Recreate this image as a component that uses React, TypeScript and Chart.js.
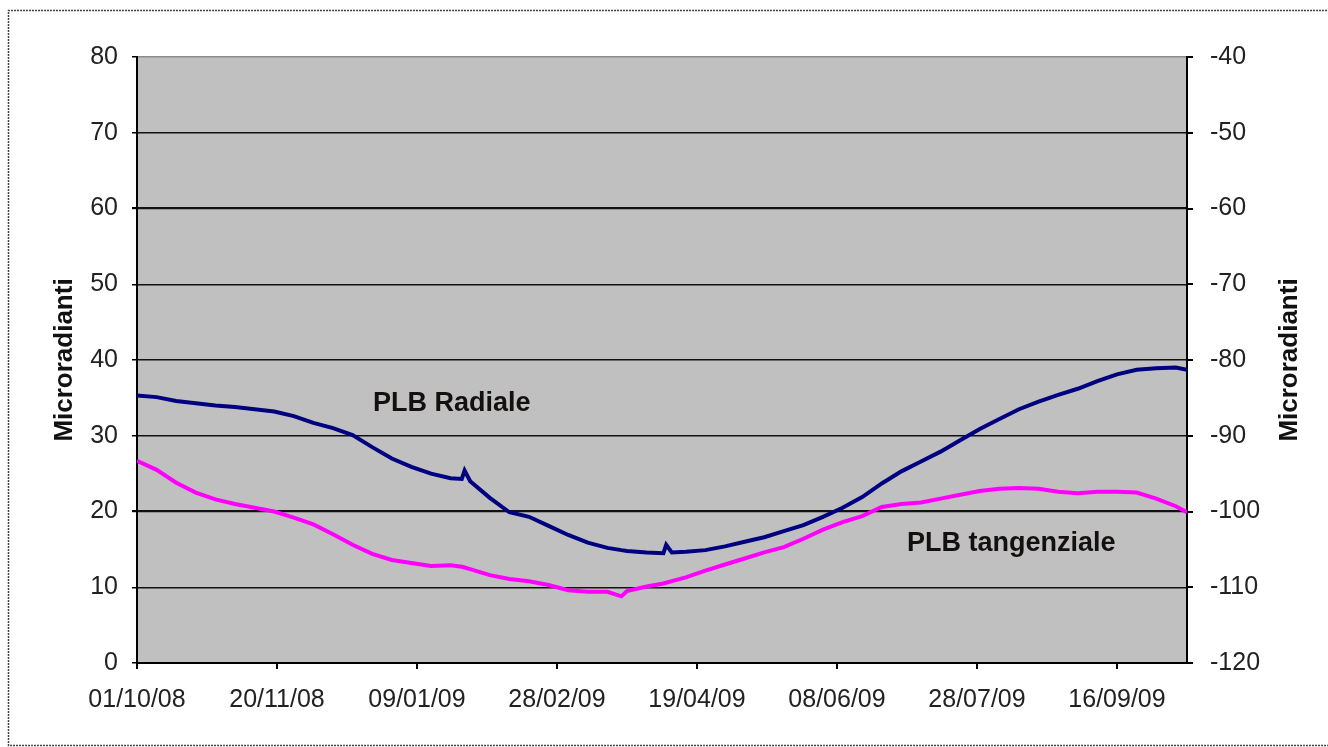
import React, { useEffect, useRef } from 'react';
import { Chart, registerables } from 'chart.js';

Chart.register(...registerables);

// Days elapsed since 01/10/08
const days = [
  0, 7, 14, 21, 28, 35, 42, 49, 56, 63, 70, 77, 84, 91, 98, 105, 112, 116, 117, 119,
  126, 133, 140, 147, 154, 161, 168, 173, 175, 182, 188, 189, 191, 196, 203, 210, 217, 224,
  231, 238, 245, 252, 259, 266, 273, 280, 287, 294, 301, 308, 315, 322, 329, 336,
  343, 350, 357, 364, 371, 375,
];

// PLB Radiale (microradianti)
const radiale = [
  35.3, 35.1, 34.6, 34.3, 34.0, 33.8, 33.5, 33.2, 32.6, 31.7, 31.0, 30.1, 28.5, 27.0, 25.9, 25.0, 24.4, 24.3, 25.4, 24.0,
  21.8, 19.9, 19.3, 18.1, 16.9, 15.9, 15.2, 14.9, 14.8, 14.6, 14.5, 15.6, 14.6, 14.7, 14.9, 15.4, 16.0, 16.6,
  17.4, 18.2, 19.3, 20.5, 21.9, 23.7, 25.3, 26.6, 27.9, 29.4, 30.9, 32.2, 33.5, 34.5, 35.4, 36.2,
  37.2, 38.1, 38.7, 38.9, 39.0, 38.7,
];

// PLB tangenziale (microradianti)
const tangenziale = [
  26.7, 25.5, 23.8, 22.5, 21.6, 21.0, 20.5, 20.0, 19.2, 18.3, 17.0, 15.6, 14.4, 13.6, 13.2, 12.8, 12.9, 12.7, 12.6, 12.4,
  11.6, 11.1, 10.8, 10.3, 9.6, 9.4, 9.4, 8.8, 9.5, 10.1, 10.5, 10.6, 10.8, 11.3, 12.2, 13.0, 13.8, 14.6,
  15.3, 16.4, 17.6, 18.6, 19.4, 20.6, 21.0, 21.2, 21.7, 22.2, 22.7, 23.0, 23.1, 23.0, 22.6, 22.4,
  22.6, 22.6, 22.5, 21.7, 20.7, 19.9,
];

const xTickDays = [0, 50, 100, 150, 200, 250, 300, 350];
const xTickLabels = ['01/10/08', '20/11/08', '09/01/09', '28/02/09', '19/04/09', '08/06/09', '28/07/09', '16/09/09'];

const seriesNames = ['PLB Radiale', 'PLB tangenziale'];
const axisTitle = 'Microradianti';

const FONT = '"Liberation Sans", Arial, Helvetica, sans-serif';

const decorPlugin = {
  id: 'decor',
  beforeDraw(chart: any) {
    const { ctx, chartArea } = chart;
    const { left, top, right, bottom } = chartArea;
    ctx.save();
    ctx.fillStyle = '#ffffff';
    ctx.fillRect(0, 0, chart.width, chart.height);
    ctx.fillStyle = '#c0c0c0';
    ctx.fillRect(left, top, right - left, bottom - top);
    ctx.restore();
  },
  afterDatasetsDraw(chart: any) {
    const { ctx, scales } = chart;
    const xs = scales.x;
    const ys = scales.y;
    ctx.save();
    ctx.fillStyle = '#151010';
    ctx.font = `bold 27px ${FONT}`;
    ctx.textAlign = 'left';
    ctx.textBaseline = 'middle';
    ctx.fillText(seriesNames[0], xs.getPixelForValue(84.3), ys.getPixelForValue(34.3));
    ctx.fillText(seriesNames[1], xs.getPixelForValue(275), ys.getPixelForValue(15.8));
    ctx.restore();
  },
  afterDraw(chart: any) {
    const { ctx } = chart;
    ctx.save();
    ctx.fillStyle = '#111';
    ctx.font = `bold 26px ${FONT}`;
    ctx.textAlign = 'center';
    ctx.textBaseline = 'middle';
    [[65, 360], [1290, 360]].forEach(([cx, cy]) => {
      ctx.save();
      ctx.translate(cx, cy);
      ctx.rotate(-Math.PI / 2);
      ctx.fillText(axisTitle, 0, 0);
      ctx.restore();
    });
    // outer frame
    ctx.strokeStyle = '#444';
    ctx.lineWidth = 1.5;
    ctx.setLineDash([2, 1]);
    ctx.beginPath();
    ctx.moveTo(1330, 10.5);
    ctx.lineTo(8.5, 10.5);
    ctx.lineTo(8.5, 745.5);
    ctx.lineTo(1330, 745.5);
    ctx.stroke();
    ctx.restore();
  },
};

export default function App() {
  const canvasRef = useRef<HTMLCanvasElement | null>(null);

  useEffect(() => {
    document.body.style.margin = '0';
    const canvas = canvasRef.current;
    if (!canvas) return;
    const chart = new Chart(canvas, {
      type: 'line',
      data: {
        datasets: [
          {
            label: seriesNames[0],
            data: days.map((d, i) => ({ x: d, y: radiale[i] })),
            borderColor: '#000080',
            borderWidth: 4,
            pointRadius: 0,
            tension: 0,
            yAxisID: 'y',
          },
          {
            label: seriesNames[1],
            data: days.map((d, i) => ({ x: d, y: tangenziale[i] })),
            borderColor: '#ff00ff',
            borderWidth: 4,
            pointRadius: 0,
            tension: 0,
            yAxisID: 'y',
          },
        ],
      },
      options: {
        animation: false,
        responsive: false,
        devicePixelRatio: 1,
        layout: { padding: { top: 57, left: 0, right: 0, bottom: 0 } },
        plugins: {
          legend: { display: false },
          tooltip: { enabled: false },
          title: { display: false },
        },
        scales: {
          x: {
            type: 'linear',
            min: 0,
            max: 375,
            afterBuildTicks: (s: any) => {
              s.ticks = xTickDays.map((v) => ({ value: v }));
            },
            afterFit: (s: any) => {
              s.height = 84;
            },
            ticks: {
              autoSkip: false,
              maxRotation: 0,
              color: '#222',
              padding: 16,
              font: { family: FONT, size: 25 },
              callback: (v: any) => {
                const i = xTickDays.indexOf(Number(v));
                return i >= 0 ? xTickLabels[i] : '';
              },
            },
            grid: { drawOnChartArea: false, color: '#000', tickLength: 6, lineWidth: 2 },
            border: { display: true, color: '#000', width: 2 },
          },
          y: {
            position: 'left',
            min: 0,
            max: 80,
            afterFit: (s: any) => {
              s.width = 137;
            },
            ticks: {
              stepSize: 10,
              color: '#222',
              padding: 14,
              font: { family: FONT, size: 25 },
            },
            grid: {
              color: (c: any) => (c.tick && c.tick.value === 80 ? '#8a8a8a' : '#111'),
              lineWidth: (c: any) => (c.tick && (c.tick.value === 20 || c.tick.value === 60) ? 2.2 : 1.5),
              tickLength: 5,
              tickColor: '#000',
            },
            border: { display: true, color: '#000', width: 2 },
          },
          y2: {
            position: 'right',
            min: -120,
            max: -40,
            afterFit: (s: any) => {
              s.width = 141;
            },
            ticks: {
              stepSize: 10,
              color: '#222',
              padding: 17,
              font: { family: FONT, size: 25 },
            },
            grid: { drawOnChartArea: false, color: '#000', tickLength: 6, lineWidth: 2 },
            border: { display: true, color: '#000', width: 2 },
          },
        },
      },
      plugins: [decorPlugin],
    } as any);
    return () => chart.destroy();
  }, []);

  return (
    <div style={{ width: 1328, height: 747, position: 'relative' }}>
      <canvas ref={canvasRef} width={1328} height={747} style={{ display: 'block' }} />
    </div>
  );
}
